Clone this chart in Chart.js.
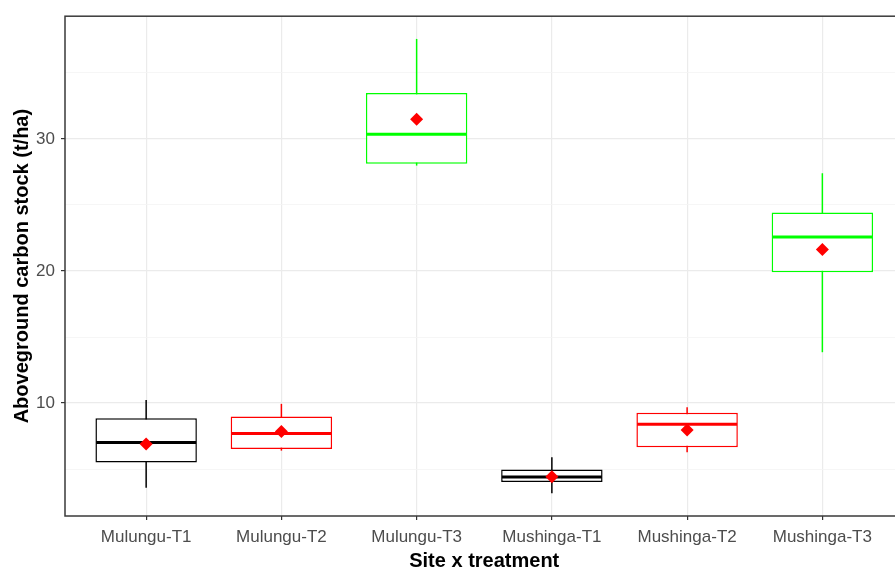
<!DOCTYPE html>
<html>
<head>
<meta charset="utf-8">
<script src="https://cdn.jsdelivr.net/npm/chart.js@4"></script>
<style>
  html, body { margin: 0; padding: 0; background: #fff; overflow: hidden; }
  #wrap { width: 910px; height: 570px; }
</style>
</head>
<body>
<div id="wrap"><canvas id="box-chart" width="910" height="570"></canvas></div>
<script>
// data
const categories = ['Mulungu-T1', 'Mulungu-T2', 'Mulungu-T3', 'Mushinga-T1', 'Mushinga-T2', 'Mushinga-T3']
const whiskerLow = [3.58, 6.4, 27.98, 3.17, 6.28, 13.85]
const q1 = [5.5, 6.53, 28.11, 4.03, 6.65, 19.9]
const median = [7.01, 7.69, 30.35, 4.41, 8.4, 22.58]
const q3 = [8.85, 8.98, 33.48, 4.97, 9.26, 24.42]
const whiskerHigh = [10.24, 9.94, 37.57, 5.9, 9.68, 27.4]
const means = [6.91, 7.84, 31.48, 4.43, 7.97, 21.62]
const boxColors = ['#000000', '#ff0000', '#00ff00', '#000000', '#ff0000', '#00ff00']

const yMajor = [10, 20, 30]
const yMinor = [5, 15, 25, 35]

const tickFont = { family: "'Liberation Sans', Arial, sans-serif", size: 17 }
const titleFont = { family: "'Liberation Sans', Arial, sans-serif", size: 20, weight: 'bold', lineHeight: 0.9 }

// whiskers go under the boxes, medians on top of them
const boxParts = {
  id: 'boxParts',
  beforeDatasetsDraw(chart) {
    const { ctx, scales: { x, y } } = chart
    ctx.save()
    ctx.lineWidth = 1.5
    categories.forEach((c, i) => {
      const px = x.getPixelForValue(i)
      ctx.strokeStyle = boxColors[i]
      ctx.beginPath()
      ctx.moveTo(px, y.getPixelForValue(whiskerLow[i]))
      ctx.lineTo(px, y.getPixelForValue(whiskerHigh[i]))
      ctx.stroke()
    })
    ctx.restore()
  },
  afterDatasetDraw(chart, args) {
    if (args.index !== 0) return
    const { ctx, scales: { y } } = chart
    const meta = chart.getDatasetMeta(0)
    ctx.save()
    ctx.lineWidth = 3
    meta.data.forEach((bar, i) => {
      const py = y.getPixelForValue(median[i])
      ctx.strokeStyle = boxColors[i]
      ctx.beginPath()
      ctx.moveTo(bar.x - bar.width / 2 + 0.75, py)
      ctx.lineTo(bar.x + bar.width / 2 - 0.75, py)
      ctx.stroke()
    })
    ctx.restore()
  },
  afterDraw(chart) {
    const { ctx, chartArea: a } = chart
    ctx.save()
    ctx.strokeStyle = '#3a3a3a'
    ctx.lineWidth = 1.5
    ctx.strokeRect(a.left, a.top, a.right - a.left, a.bottom - a.top)
    ctx.restore()
  },
}

new Chart(document.getElementById('box-chart'), {
  type: 'bar',
  data: {
    datasets: [
      {
        type: 'bar',
        data: categories.map((c, i) => ({ x: i, y: [q1[i], q3[i]] })),
        backgroundColor: '#ffffff',
        borderColor: boxColors,
        borderWidth: 1.5,
        borderSkipped: false,
        barPercentage: 0.75,
        categoryPercentage: 1,
        order: 1,
      },
      {
        type: 'scatter',
        data: categories.map((c, i) => ({ x: i, y: means[i] })),
        pointStyle: 'rectRot',
        radius: 6.5,
        backgroundColor: '#ff0000',
        borderWidth: 0,
        order: 0,
      },
    ],
  },
  options: {
    responsive: false,
    animation: false,
    layout: { padding: { left: 0, top: 16, right: 3, bottom: 0 } },
    plugins: { legend: { display: false }, tooltip: { enabled: false } },
    scales: {
      x: {
        type: 'linear',
        offset: false,
        min: -0.6,
        max: 5.6,
        afterBuildTicks: (s) => { s.ticks = categories.map((c, i) => ({ value: i })) },
        afterFit: (s) => { s.height = 54 },
        ticks: {
          callback: (v) => categories[v],
          color: '#4d4d4d',
          font: tickFont,
          padding: 7,
          maxRotation: 0,
          autoSkip: false,
        },
        grid: { offset: false, color: '#ebebeb', lineWidth: 1.2, tickLength: 4, tickColor: '#333333' },
        border: { display: false },
        title: { display: true, text: 'Site x treatment', color: '#000', font: titleFont, padding: { top: 0, bottom: 0 } },
      },
      y: {
        type: 'linear',
        min: 1.45,
        max: 39.29,
        afterBuildTicks: (s) => { s.ticks = yMajor.concat(yMinor).sort((a, b) => a - b).map(v => ({ value: v })) },
        afterFit: (s) => { s.width = 65 },
        ticks: {
          callback: (v) => (yMajor.includes(v) ? String(v) : ''),
          color: '#4d4d4d',
          font: tickFont,
          padding: 6,
        },
        grid: {
          color: (c) => (yMajor.includes(c.tick.value) ? '#ebebeb' : '#f4f4f4'),
          lineWidth: (c) => (yMajor.includes(c.tick.value) ? 1.2 : 0.8),
          tickLength: 4,
          tickColor: (c) => (yMajor.includes(c.tick.value) ? '#333333' : 'rgba(0,0,0,0)'),
        },
        border: { display: false },
        title: { display: true, text: 'Aboveground carbon stock (t/ha)', color: '#000', font: titleFont, padding: { top: 13, bottom: 0 } },
      },
    },
  },
  plugins: [boxParts],
})
</script>
</body>
</html>
